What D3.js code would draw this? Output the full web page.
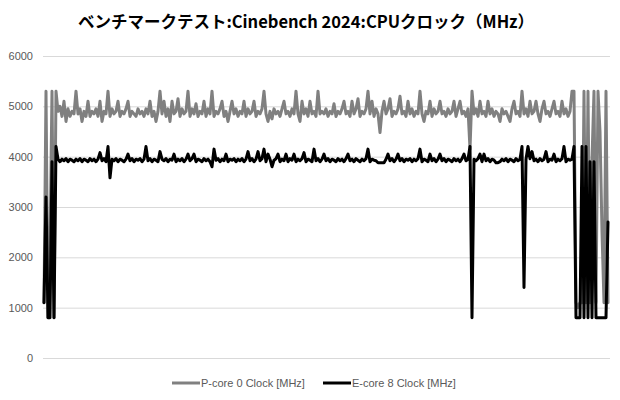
<!DOCTYPE html>
<html><head><meta charset="utf-8">
<script src="https://cdn.jsdelivr.net/npm/d3@7"></script>
<style>body{margin:0;background:#fff} svg{display:block}</style>
</head><body><svg id="c" width="620" height="400"></svg>
<script>
const title = "ベンチマークテスト:Cinebench 2024:CPUクロック（MHz）";
const yTicks = [0, 1000, 2000, 3000, 4000, 5000, 6000];
const seriesNames = ["P-core 0 Clock [MHz]", "E-core 8 Clock [MHz]"];
const seriesColors = ["#808080", "#000000"];

const pCore = [
1100,5300,800,2300,5300,800,5300,4900,5000,4800,
5100,4700,4950,4800,4900,4850,5300,4850,4950,4700,
4900,4800,5100,4800,4900,4850,4950,4800,5100,4700,
4900,4850,5300,4800,4950,4850,4900,5100,4800,4900,
4850,4950,5100,4800,4900,4850,4800,4950,4850,4900,
4800,4950,4850,5100,4800,4900,4700,4900,5300,4850,
5100,4800,4950,4700,5100,4850,4900,5150,4800,4950,
4850,4900,5300,4800,4950,4850,5050,4800,4900,4850,
5100,4800,4950,4850,5300,4800,4900,4850,4950,5100,
4800,4900,4700,4900,5100,4850,4950,4800,4900,4850,
5100,4800,4950,4850,4900,5100,4800,4900,4850,4950,
5300,4850,4700,4900,4750,4950,4850,4900,4800,4950,
5100,4850,4900,4800,4950,4850,5300,4850,4700,5100,
4850,4950,4800,5100,4850,4900,4800,5300,4850,4900,
4850,4950,4800,4900,4850,5050,4800,4900,4850,4950,
5100,4850,4900,4800,5100,4850,4950,5150,4800,4900,
4850,4950,5300,4850,5100,4800,4950,4850,4480,4900,
5100,4850,4950,5150,4800,4900,4850,4950,5200,4850,
4900,4800,5100,4850,4950,4800,4900,4850,5300,4850,
4700,4900,4850,5100,4800,4950,4850,4900,5100,4850,
4900,4800,4950,4850,4900,5100,4800,4950,5100,4850,
4900,4800,4950,4150,5300,4850,4950,4800,5100,4850,
4900,4800,5100,4850,4950,4800,4900,4850,4700,4950,
4850,4900,4800,4700,4950,5100,4850,4900,4800,5300,
4850,4950,4800,5100,4850,4900,5100,4850,4700,4950,
5100,4850,4900,4800,4950,5100,4850,4900,4800,5100,
4850,4950,4800,4900,5300,5300,1100,1000,1100,1100,
5300,1100,5300,1100,3950,5300,1100,5300,4500,2500,
1100,5300,1100
];

const eCore = [
1100,3200,800,800,3900,800,4200,3950,3900,3950,
3920,3960,3900,3950,3930,3900,3950,3920,3960,3900,
3950,3930,3900,3960,3920,3950,3900,3950,4080,3920,
3960,3900,4200,3580,3950,3920,3960,3900,3950,3930,
3900,3950,4050,3920,3960,3900,3950,3930,3960,3900,
3950,4200,3920,3960,3900,3950,3930,3900,4100,3950,
3920,3960,3900,3950,3930,4050,3900,3950,3920,3960,
3900,3950,4050,3920,3960,4050,3900,3950,3930,3900,
3960,3920,3950,3900,3800,4150,3930,3960,3900,3950,
3920,4050,3900,3950,3930,3960,3900,3950,3920,3960,
3900,3950,4100,3920,3960,3900,3950,4100,3920,3960,
4150,3900,4050,3950,3800,3930,3960,4050,3900,3950,
3920,4050,3900,3960,3930,4050,3900,3950,3920,3960,
4080,3900,3950,3930,3900,4150,3920,3960,3900,3950,
4050,3920,3960,3900,3950,3930,3900,3960,3920,3950,
3900,3960,4050,3920,3950,3900,3960,3930,3900,3950,
3920,3960,4150,3900,3950,3930,3920,3880,3880,3880,
3880,3950,4050,3920,3960,3900,3950,4050,3920,3960,
3900,3950,3930,3960,3900,3950,3920,3960,4150,3900,
3950,3930,3900,4050,3920,3960,3900,3950,4050,3920,
3960,3900,3950,3930,3900,3960,3920,3950,3900,3960,
4050,3920,3950,4200,800,3950,3920,3960,4050,3900,
4050,3920,3960,3900,3950,3930,3880,3880,3900,3950,
3920,3960,3900,3950,3930,3900,3960,3920,3950,4200,
1400,3950,4200,3960,4100,3920,3950,3900,3960,3920,
3950,4100,3900,3950,3930,4050,3900,3950,3920,3960,
4200,3900,3950,3930,3950,4200,800,800,800,4200,
800,4200,800,3900,800,3900,800,800,800,800,
800,800,2700
];

const svg = d3.select("#c");
const plot = {left: 43, right: 610, top: 56, bottom: 358};
const n = Math.min(pCore.length, eCore.length);

const x = d3.scaleLinear().domain([0, n - 1]).range([44, 608]);
const y = d3.scaleLinear().domain([0, 6000]).range([plot.bottom, plot.top]);

// title
svg.append("text")
  .attr("x", 306).attr("y", 28)
  .attr("text-anchor", "middle")
  .attr("font-family", "'Noto Sans CJK JP', 'Noto Sans', sans-serif")
  .attr("font-weight", "bold")
  .attr("font-size", 16.5)
  .attr("fill", "#000")
  .text(title);

// y axis with gridlines
const yAxis = d3.axisLeft(y).tickValues(yTicks)
  .tickSize(-(plot.right - plot.left)).tickPadding(10)
  .tickFormat(d3.format("d"));
const gy = svg.append("g").attr("transform", `translate(${plot.left},0)`).call(yAxis);
gy.select(".domain").remove();
gy.selectAll(".tick line").attr("stroke", "#d9d9d9").attr("stroke-width", 1);
gy.selectAll(".tick text")
  .attr("fill", "#595959")
  .attr("font-family", "'Liberation Sans', Arial, sans-serif")
  .attr("font-size", 11);

const line = d3.line().x((d, i) => x(i)).y(d => y(d));
[pCore, eCore].forEach((s, k) => {
  svg.append("path")
    .datum(s.slice(0, n))
    .attr("fill", "none")
    .attr("stroke", seriesColors[k])
    .attr("stroke-width", 3)
    .attr("stroke-linejoin", "round")
    .attr("stroke-linecap", "round")
    .attr("d", line);
});

// legend
const legendX = [172, 323];
seriesNames.forEach((name, k) => {
  const g = svg.append("g").attr("transform", `translate(${legendX[k]},383)`);
  g.append("line").attr("x1", 0).attr("x2", 28).attr("y1", 0).attr("y2", 0)
    .attr("stroke", seriesColors[k]).attr("stroke-width", 3);
  g.append("text").attr("x", 29).attr("y", 0).attr("dy", "0.35em")
    .attr("fill", "#595959")
    .attr("font-family", "'Liberation Sans', Arial, sans-serif")
    .attr("font-size", 11)
    .text(name);
});
</script>
</body></html>
